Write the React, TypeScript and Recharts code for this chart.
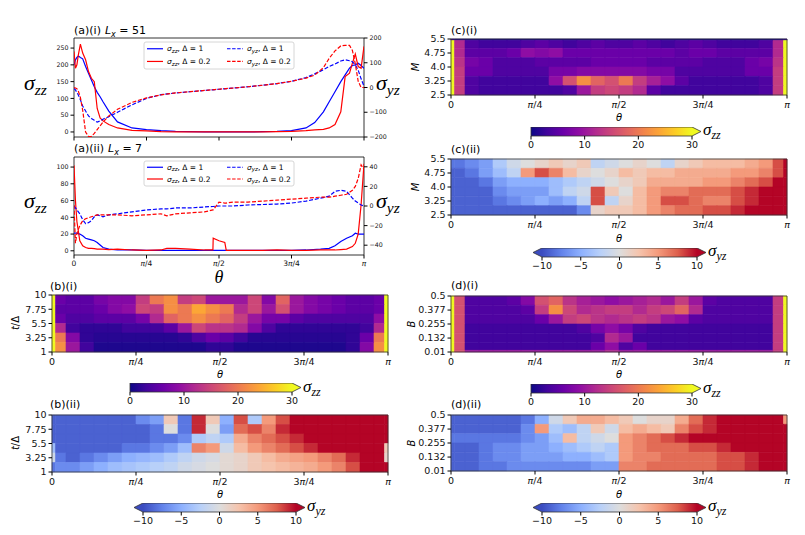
import React from "react";
import { ComposedChart, LineChart, Line, XAxis, YAxis, Scatter, ReferenceArea } from "recharts";

const FONT = "DejaVu Sans, sans-serif";
const MATH = "Liberation Serif, DejaVu Serif, serif";

// theta is kept in units of pi
const PI_TICKS = [0, 0.25, 0.5, 0.75, 1];

// ---- (a)(i) Lx = 51
const A1_THETA = [0, 0.005, 0.01, 0.015, 0.022, 0.03, 0.04, 0.05, 0.06, 0.07, 0.08, 0.09, 0.1, 0.12, 0.15, 0.2, 0.25, 0.3, 0.35, 0.4, 0.45, 0.5, 0.55, 0.6, 0.65, 0.7, 0.75, 0.8, 0.83, 0.86, 0.88, 0.9, 0.92, 0.935, 0.95, 0.96, 0.97, 0.98, 0.99, 1];
const A1_ZZ_D1 = [200, 215, 222, 226, 222, 218, 195, 175, 155, 135, 118, 105, 90, 62, 30, 12, 7, 4, 2, 1, 0, 0, 0, 0, 1, 2, 4, 12, 28, 60, 90, 120, 150, 170, 190, 198, 200, 205, 198, 190];
const A1_ZZ_D02 = [240, 190, 200, 230, 262, 235, 215, 180, 160, 150, 70, 42, 33, 22, 12, 5, 3, 1, 0, 0, 0, 0, 0, 0, 0, 1, 2, 4, 6, 8, 12, 22, 60, 165, 175, 205, 232, 195, 190, 255];
const A1_YZ_D1 = [-4, -10, -20, -30, -50, -75, -95, -115, -125, -132, -140, -135, -128, -118, -100, -70, -44, -29, -22, -17, -12, -7, -2, 3, 9, 16, 25, 40, 55, 72, 85, 95, 107, 112, 108, 104, 92, 70, 35, 5];
const A1_YZ_D02 = [0, -2, -5, -15, -40, -92, -180, -198, -198, -185, -170, -155, -140, -115, -88, -60, -42, -30, -22, -17, -12, -7, -2, 3, 9, 16, 25, 38, 50, 80, 118, 148, 168, 170, 170, 150, 95, 25, 0, 0];

// ---- (a)(ii) Lx = 7
const A2_THETA = [0, 0.005, 0.01, 0.02, 0.03, 0.04, 0.05, 0.06, 0.07, 0.08, 0.09, 0.1, 0.12, 0.15, 0.2, 0.25, 0.3, 0.32, 0.35, 0.4, 0.45, 0.479, 0.48, 0.5, 0.52, 0.525, 0.55, 0.6, 0.65, 0.7, 0.75, 0.8, 0.85, 0.88, 0.9, 0.92, 0.94, 0.96, 0.97, 0.98, 0.99, 1];
const A2_ZZ_D1 = [21, 21, 21, 20, 18, 15, 14, 13, 12, 10, 7, 4, 2, 1, 1, 0.5, 0.5, 0.5, 0.5, 0.5, 0.5, 0.5, 0.5, 0.5, 0.5, 0.5, 0.5, 0.5, 0.5, 0.5, 0.5, 1, 2, 3, 6, 11, 15, 18, 21, 20, 20, 20];
const A2_ZZ_D02 = [102, 60, 35, 12, 6, 4, 3, 3, 2.5, 2, 2, 2, 1.5, 2, 1, 0.5, 1, 3, 3, 2, 1, 1, 15, 12, 10, 0.5, 0.5, 0.5, 0.5, 1, 0.5, 0.5, 1, 1, 1, 1.5, 2, 5, 9, 20, 55, 104];
const A2_YZ_D1 = [0, -2, -4, -8, -14, -18, -17, -15, -11, -9, -10, -11, -9, -8, -6, -4, -3, -3, -2, -2, -1, -0.5, -0.5, 0, 0, 0, 0, 1, 1.5, 2, 3, 5, 8, 10, 15, 16, 15, 8, 5, 3, 1, 0];
const A2_YZ_D02 = [1, -38, -28, -20, -15, -13, -12, -11, -10, -9, -9, -9, -9, -9, -10, -9, -8, -10, -8, -7, -6, -4, -4, 4, 3, 3, 4, 4, 5, 6, 7, 8, 9, 9, 10, 11, 12, 16, 20, 28, 42, 37];

const A1_ZZ_TICKS = [0, 50, 100, 150, 200, 250];
const A1_YZ_TICKS = [-200, -100, 0, 100, 200];
const A2_ZZ_TICKS = [0, 20, 40, 60, 80, 100];
const A2_YZ_TICKS = [-40, -20, 0, 20, 40];

// ---- heat maps: column edges in units of pi, rows listed top to bottom
const THETA_EDGES = [0, 0.0104, 0.0417, 0.0833, 0.125, 0.1667, 0.2083, 0.25, 0.2917, 0.3333, 0.375, 0.4167, 0.4583, 0.5, 0.5417, 0.5833, 0.625, 0.6667, 0.7083, 0.75, 0.7917, 0.8333, 0.875, 0.9167, 0.9583, 0.9896, 1];

const B_Y_EDGES = [10, 8.5, 7, 5.5, 4, 2.5, 1];
const B_Y_TICKS = [1, 3.25, 5.5, 7.75, 10];
const B_Y_LABELS = ["1", "3.25", "5.5", "7.75", "10"];

const C1_Y_EDGES = [5.5, 5.42, 5, 4.5, 4, 3.5, 3, 2.5];
const C2_Y_EDGES = [5.5, 5, 4.5, 4, 3.5, 3, 2.5];
const C_Y_TICKS = [2.5, 3.25, 4, 4.75, 5.5];
const C_Y_LABELS = ["2.5", "3.25", "4.0", "4.75", "5.5"];

const D1_Y_EDGES = [0.5, 0.4183, 0.3367, 0.255, 0.1733, 0.0917, 0.025, 0.01];
const D2_Y_EDGES = [0.5, 0.4183, 0.3367, 0.255, 0.1733, 0.0917, 0.01];
const D_Y_TICKS = [0.01, 0.132, 0.255, 0.377, 0.5];
const D_Y_LABELS = ["0.01", "0.132", "0.255", "0.377", "0.5"];

const B_ZZ = [
  [30, 6, 5, 5, 7, 8, 8, 14, 20, 22, 14, 15, 10, 10, 10, 15, 8, 18, 10, 8, 7, 6, 5, 5, 6, 30],
  [30, 5, 5, 5, 6, 8, 9, 15, 14, 22, 20, 24, 22, 20, 12, 15, 10, 16, 10, 8, 7, 6, 5, 5, 6, 30],
  [30, 6, 4, 4, 5, 5, 5, 7, 12, 18, 20, 22, 20, 18, 14, 10, 7, 7, 5, 4, 4, 4, 4, 4, 9, 30],
  [30, 12, 3, 2, 2, 2, 3, 3, 3, 5, 10, 15, 13, 13, 12, 8, 4, 2, 2, 2, 2, 2, 2, 3, 12, 30],
  [30, 20, 8, 2, 1.5, 1.5, 1.5, 1.5, 1.5, 1.5, 2, 4, 6, 5, 3, 1.5, 1.5, 1.5, 1.5, 1.5, 1.5, 1.5, 2, 6, 20, 30],
  [30, 22, 10, 3, 1, 1, 1, 1, 1, 1, 1, 1, 2, 2, 1, 1, 1, 1, 1, 1, 1, 1, 2, 8, 22, 30],
];

const B_YZ = [
  [-9, -9, -9, -9, -9, -9, -9, -7, -6, 2, -8, 9, 2, -5, 8, -3, 5, 8, 10, 10, 10, 10, 10, 10, 10, 10],
  [-9, -9, -9, -9, -9, -9, -9, -9, -8, 0, -8, 9, 0, -6, 7, 8, 6, 9, 10, 10, 10, 10, 10, 10, 10, 10],
  [-9, -9, -9, -9, -9, -9, -9, -9, -8, -8, -7, -3, -2, -3, 4, 6, 7, 8, 9, 10, 10, 10, 10, 10, 10, 10],
  [-4, -9, -9, -9, -9, -9, -8, -8, -7, -6, -4, 6, 5, -1, 3, 5, 6, 7, 8, 9, 10, 10, 10, 10, 10, 2],
  [-1, -8, -9, -8, -7, -6, -5, -4.5, -4, -3, -2, -1, -0.5, 0.5, 1, 2, 3, 4, 4.5, 5, 6, 7, 9, 10, 10, 1],
  [-8, -7, -7, -6, -5, -4, -3.5, -3, -2.5, -2, -1, -0.5, 0, 0.5, 1, 2, 2.5, 3, 3.5, 4, 5, 6, 8, 10, 10, 10],
];

const C_ZZ = [
  [2, 1, 0.5, 0.5, 0.5, 0.5, 0.5, 0.5, 0.5, 0.5, 0.5, 0.5, 0.5, 0.5, 0.5, 0.5, 0.5, 0.5, 0.5, 0.5, 0.5, 0.5, 0.5, 0.5, 1, 2],
  [30, 12, 4, 3, 3, 3, 4, 5, 4, 3, 4, 5, 4, 4, 5, 4, 3, 4, 5, 4, 3, 3, 3, 4, 12, 30],
  [30, 12, 5, 5, 5, 6, 9, 8, 9, 6, 6, 6, 6, 6, 6, 6, 6, 5, 6, 6, 5, 5, 5, 5, 12, 30],
  [30, 13, 7, 6, 4, 4, 4, 5, 5, 5, 5, 6, 6, 6, 6, 5, 5, 5, 5, 4, 4, 4, 6, 7, 13, 30],
  [30, 14, 6, 6, 4, 4, 4, 4, 7, 7, 8, 8, 8, 8, 8, 7, 7, 4, 4, 4, 4, 4, 6, 6, 14, 30],
  [30, 14, 4, 3, 3, 3, 3, 3, 9, 16, 22, 18, 16, 20, 14, 11, 9, 5, 3, 3, 3, 3, 3, 4, 14, 30],
  [30, 14, 4, 3, 3, 3, 3, 3, 3, 4, 10, 14, 15, 14, 12, 5, 3, 3, 3, 3, 3, 3, 3, 4, 14, 30],
];

const C_YZ = [
  [-8, -8, -7, -6, -3, -1, 0, 1, 2, 1, 2, -2, -1, 0, 1, 0, -2, 1, 2, 3, 3, 3, 4, 5, 8, 10],
  [-9, -9, -8, -6, -4, -2, 5, 8, 6, 3, 1, 0, 1, 3, 2, 3, 3, 4, 4, 4, 4, 5, 5, 6, 8, 10],
  [-9, -9, -9, -8, -6, -5, -5, -5, -4, -3, -2, -1, 0, 1, 2, 4, 4, 4, 4, 5, 5, 6, 7, 8, 10, 10],
  [-9, -9, -9, -9, -7, -6, -6, -6, -4, -2, -1, 8, 2, 0, 3, 5, 6, 6, 7, 7, 7, 8, 9, 10, 10, 10],
  [-9, -9, -9, -9, -8, -7, -6, -5, -6, -5, -2, 8, -2, 1, 3, 5, 8, 8, 7, 6, 6, 8, 9, 10, 10, 10],
  [-9, -9, -9, -9, -9, -9, -9, -9, -9, -9, -7, 1, 2, 2, 3, 5, 6, 7, 7, 8, 8, 9, 10, 10, 10, 10],
];

const D_ZZ = [
  [30, 16, 4, 4, 4, 5, 8, 16, 18, 13, 11, 10, 9, 10, 11, 12, 10, 14, 10, 5, 4, 4, 4, 4, 14, 30],
  [30, 16, 4, 4, 4, 4, 5, 14, 22, 15, 12, 13, 14, 14, 12, 14, 15, 18, 12, 4, 4, 4, 4, 4, 14, 30],
  [30, 16, 4, 4, 4, 4, 4, 6, 10, 14, 15, 13, 12, 13, 14, 13, 10, 9, 5, 4, 4, 4, 4, 4, 14, 30],
  [30, 16, 3, 3, 3, 3, 3, 3, 3, 3, 4, 7, 9, 7, 4, 3, 3, 3, 3, 3, 3, 3, 3, 3, 14, 30],
  [30, 16, 3, 3, 3, 3, 3, 3, 3, 3, 3, 4, 12, 10, 3, 3, 3, 3, 3, 3, 3, 3, 3, 3, 14, 30],
  [30, 16, 3, 3, 3, 3, 3, 3, 3, 3, 3, 6, 9, 4, 6, 3, 3, 3, 3, 3, 3, 3, 3, 3, 14, 30],
  [30, 16, 10, 10, 10, 10, 10, 10, 10, 10, 10, 10, 12, 10, 10, 10, 10, 10, 10, 10, 10, 10, 10, 10, 14, 30],
];

const D_YZ = [
  [-9, -9, -9, -9, -9, -9, -8, -5, -1, 2, 4, 4, 3, 2, 0, 1, 1, 4, 7, 9, 10, 10, 10, 10, 10, 5],
  [-9, -9, -9, -9, -9, -9, -7, 5, -3, -4, -2, 2, -1, 3, 4, 3, 2, 6, 8, 9, 10, 10, 10, 10, 10, 10],
  [-8, -8, -8, -8, -8, -8, -7, -6, -4, 3, -2, -1, 0, 5, 6, 7, 8, 9, 10, 10, 10, 10, 10, 10, 10, 10],
  [-9, -9, -9, -8, -7, -7, -6, -6, -5, -4, -3, -2, -3, 5, 6, 7, 7, 7, 8, 8, 9, 10, 10, 10, 10, 10],
  [-9, -9, -9, -8, -7, -7, -6, -6, -6, -5, -5, -4, -3, 5, 6, 6, 7, 7, 7, 7, 8, 8, 9, 10, 10, 10],
  [-9, -9, -9, -8, -8, -7, -7, -7, -7, -7, -7, -6, -6, 6, 6, 7, 7, 7, 7, 7, 8, 8, 9, 10, 10, 10],
];

const ZZ_BAR_TICKS = [0, 10, 20, 30];
const YZ_BAR_TICKS = [-10, -5, 0, 5, 10];

const LEGEND_ITEMS = [
  { sub: "zz", delta: "1", color: "#0000ff", dashed: false },
  { sub: "zz", delta: "0.2", color: "#ff0000", dashed: false },
  { sub: "yz", delta: "1", color: "#0000ff", dashed: true },
  { sub: "yz", delta: "0.2", color: "#ff0000", dashed: true },
];

// colour maps
const PLASMA = [[13, 8, 135], [65, 4, 157], [106, 0, 168], [143, 13, 164], [177, 42, 144], [204, 71, 120], [225, 100, 98], [242, 132, 75], [252, 166, 54], [252, 206, 37], [240, 249, 33]];
const COOLWARM = [[59, 76, 192], [98, 130, 234], [141, 176, 254], [184, 208, 249], [221, 221, 221], [245, 196, 173], [244, 154, 123], [222, 96, 77], [180, 4, 38]];

function ramp(stops: number[][], f: number) {
  const c = Math.max(0, Math.min(1, f)) * (stops.length - 1);
  const i = Math.min(Math.floor(c), stops.length - 2);
  const u = c - i;
  const a = stops[i];
  const b = stops[i + 1];
  return `rgb(${a.map((v, k) => Math.round(v + (b[k] - v) * u)).join(",")})`;
}
const plasma = (v: number) => ramp(PLASMA, v / 30);
const coolwarm = (v: number) => ramp(COOLWARM, (v + 10) / 20);

const minus = (v: number) => String(v).replace("-", "\u2212");

function PiTick(props: any) {
  const { x, y, payload, fs } = props;
  const v = payload.value;
  let pre = "";
  let post = "";
  let pi = true;
  if (v === 0) { pre = "0"; pi = false; }
  else if (v === 0.25) post = "/4";
  else if (v === 0.5) post = "/2";
  else if (v === 0.75) { pre = "3"; post = "/4"; }
  return (
    <text x={x} y={y} dy="0.71em" textAnchor="middle" fontSize={fs} fontFamily={FONT} fill="#111">
      {pre}
      {pi && <tspan fontStyle="italic">π</tspan>}
      {post}
    </text>
  );
}

const PLOT_W_A = 290;
const PLOT_W_H = 336;

function LinePanel(props: any) {
  const { left, top, plotH, theta, zz1, zz02, yz1, yz02, zzDomain, zzTicks, yzDomain, yzTicks, showX } = props;
  const data = theta.map((t: number, i: number) => ({ t, zz1: zz1[i], zz02: zz02[i], yz1: yz1[i], yz02: yz02[i] }));
  const wl = 26;
  const wr = 30;
  const hx = showX ? 20 : 8;
  const mt = 5;
  const mr = 6;
  const tickStyle = { fontSize: 6.3, fill: "#111", fontFamily: FONT };
  return (
    <div style={{ position: "absolute", left: left - wl, top: top - mt }}>
      <LineChart width={wl + PLOT_W_A + wr + mr} height={mt + plotH + hx} data={data} margin={{ top: mt, right: mr, left: 0, bottom: 0 }}>
        <XAxis dataKey="t" type="number" domain={[0, 1]} ticks={PI_TICKS} allowDataOverflow interval={0} height={hx}
          tickSize={3.5} tickMargin={2} axisLine={false} tickLine={{ stroke: "#000" }}
          tick={showX ? (p: any) => <PiTick {...p} fs={7.5} /> : () => <g />} />
        <YAxis yAxisId="l" type="number" domain={zzDomain} ticks={zzTicks} allowDataOverflow interval={0} width={wl}
          tickSize={3.5} tickMargin={2} axisLine={false} tickLine={{ stroke: "#000" }} tick={tickStyle} tickFormatter={minus} />
        <YAxis yAxisId="r" orientation="right" type="number" domain={yzDomain} ticks={yzTicks} allowDataOverflow interval={0} width={wr}
          tickSize={3.5} tickMargin={2} axisLine={false} tickLine={{ stroke: "#000" }} tick={tickStyle} tickFormatter={minus} />
        <Line yAxisId="l" type="linear" dataKey="zz1" stroke="#0000ff" strokeWidth={1.2} dot={false} isAnimationActive={false} />
        <Line yAxisId="l" type="linear" dataKey="zz02" stroke="#ff0000" strokeWidth={1.2} dot={false} isAnimationActive={false} />
        <Line yAxisId="r" type="linear" dataKey="yz1" stroke="#0000ff" strokeWidth={1.2} strokeDasharray="4 1.8" dot={false} isAnimationActive={false} />
        <Line yAxisId="r" type="linear" dataKey="yz02" stroke="#ff0000" strokeWidth={1.2} strokeDasharray="4 1.8" dot={false} isAnimationActive={false} />
        <ReferenceArea yAxisId="l" x1={0} x2={1} y1={zzDomain[0]} y2={zzDomain[1]} fill="none" stroke="#000" strokeWidth={0.8} ifOverflow="visible" />
      </LineChart>
    </div>
  );
}

function HeatPanel(props: any) {
  const { left, top, plotH, rows, yEdges, yTicks, yLabels, color } = props;
  const cells: any[] = [];
  rows.forEach((row: number[], j: number) =>
    row.forEach((v, i) => cells.push({ x1: THETA_EDGES[i], x2: THETA_EDGES[i + 1], y1: yEdges[j + 1], y2: yEdges[j], v })),
  );
  const yMin = yEdges[yEdges.length - 1];
  const yMax = yEdges[0];
  const centers = cells.map((c) => ({ x: (c.x1 + c.x2) / 2, y: (c.y1 + c.y2) / 2 }));
  const wy = 36;
  const mt = 5;
  const mr = 12;
  const hx = 20;
  return (
    <div style={{ position: "absolute", left: left - wy, top: top - mt }}>
      <ComposedChart width={wy + PLOT_W_H + mr} height={mt + plotH + hx} margin={{ top: mt, right: mr, left: 0, bottom: 0 }}>
        <XAxis dataKey="x" type="number" domain={[0, 1]} ticks={PI_TICKS} allowDataOverflow interval={0} height={hx}
          tickSize={3.5} tickMargin={3} axisLine={false} tickLine={{ stroke: "#000" }}
          tick={(p: any) => <PiTick {...p} fs={9.5} />} />
        <YAxis dataKey="y" type="number" domain={[yMin, yMax]} ticks={yTicks} allowDataOverflow interval={0} width={wy}
          tickSize={3.5} tickMargin={2} axisLine={false} tickLine={{ stroke: "#000" }}
          tick={{ fontSize: 9.5, fill: "#111", fontFamily: FONT }}
          tickFormatter={(v: number) => yLabels[yTicks.indexOf(v)] ?? String(v)} />
        <Scatter data={centers} fill="none" legendType="none" isAnimationActive={false} />
        {cells.map((c, k) => (
          <ReferenceArea key={k} x1={c.x1} x2={c.x2} y1={c.y1} y2={c.y2} fill={color(c.v)} fillOpacity={1}
            stroke={color(c.v)} strokeWidth={0.6} ifOverflow="visible" />
        ))}
        <ReferenceArea x1={0} x2={1} y1={yMin} y2={yMax} fill="none" stroke="#333" strokeWidth={0.8} ifOverflow="visible" />
      </ComposedChart>
    </div>
  );
}

const ARROW = 9;

function ColorBar(props: any) {
  const { id, bodyLeft, bodyRight, top, barH, lo, hi, ticks, extLeft, stops } = props;
  const bodyW = bodyRight - bodyLeft;
  const ext = ((hi - lo) * ARROW) / bodyW;
  const dMin = extLeft ? lo - ext : lo;
  const dMax = hi + ext;
  const plotLeft = extLeft ? bodyLeft - ARROW : bodyLeft;
  const plotW = bodyRight + ARROW - plotLeft;
  const pad = 14;
  const hx = 18;
  const rgb = (c: number[]) => `rgb(${c.join(",")})`;
  const fracL = (lo - dMin) / (dMax - dMin);
  const fracR = (hi - dMin) / (dMax - dMin);
  return (
    <div style={{ position: "absolute", left: plotLeft - pad, top }}>
      <ComposedChart width={plotW + 2 * pad} height={barH + hx} margin={{ top: 0, right: pad, left: pad, bottom: 0 }}>
        <XAxis dataKey="x" type="number" domain={[dMin, dMax]} ticks={ticks} allowDataOverflow interval={0} height={hx}
          tickSize={3.5} tickMargin={2} axisLine={false} tickLine={{ stroke: "#000" }}
          tick={{ fontSize: 9.5, fill: "#111", fontFamily: FONT }} tickFormatter={minus} />
        <YAxis dataKey="y" type="number" domain={[0, 1]} hide />
        <Scatter data={[{ x: lo, y: 0 }, { x: hi, y: 1 }]} fill="none" legendType="none" isAnimationActive={false} />
        <ReferenceArea x1={lo} x2={hi} y1={0} y2={1} ifOverflow="visible"
          shape={(p: any) => (
            <g>
              <defs>
                <linearGradient id={id} x1="0" x2="1" y1="0" y2="0">
                  {stops.map((c: number[], i: number) => (
                    <stop key={i} offset={i / (stops.length - 1)} stopColor={rgb(c)} />
                  ))}
                </linearGradient>
              </defs>
              <rect x={p.x} y={p.y} width={p.width} height={p.height} fill={`url(#${id})`} />
            </g>
          )} />
        <ReferenceArea x1={hi} x2={dMax} y1={0} y2={1} ifOverflow="visible"
          shape={(p: any) => (
            <polygon points={`${p.x},${p.y} ${p.x + p.width},${p.y + p.height / 2} ${p.x},${p.y + p.height}`} fill={rgb(stops[stops.length - 1])} />
          )} />
        {extLeft && (
          <ReferenceArea x1={dMin} x2={lo} y1={0} y2={1} ifOverflow="visible"
            shape={(p: any) => (
              <polygon points={`${p.x + p.width},${p.y} ${p.x},${p.y + p.height / 2} ${p.x + p.width},${p.y + p.height}`} fill={rgb(stops[0])} />
            )} />
        )}
        <ReferenceArea x1={dMin} x2={dMax} y1={0} y2={1} ifOverflow="visible"
          shape={(p: any) => {
            const bl = p.x + p.width * fracL;
            const br = p.x + p.width * fracR;
            const ym = p.y + p.height / 2;
            const b = p.y + p.height;
            const d = extLeft
              ? `M${p.x},${ym} L${bl},${p.y} L${br},${p.y} L${p.x + p.width},${ym} L${br},${b} L${bl},${b} Z`
              : `M${bl},${p.y} L${br},${p.y} L${p.x + p.width},${ym} L${br},${b} L${bl},${b} Z`;
            return <path d={d} fill="none" stroke="#333" strokeWidth={0.8} />;
          }} />
      </ComposedChart>
    </div>
  );
}

function Sig({ x, y, sub, fs }: any) {
  return (
    <text x={x} y={y} fontFamily={MATH} fontStyle="italic" fontSize={fs} fill="#000">
      σ<tspan fontSize={fs * 0.7} dy={fs * 0.22}>{sub}</tspan>
    </text>
  );
}

function Title({ x, y, tag, lx }: any) {
  return (
    <text x={x} y={y} fontFamily={FONT} fontSize={11} fill="#000">
      {tag}
      {lx && (
        <>
          <tspan dx={4} fontStyle="italic">L</tspan>
          <tspan fontStyle="italic" fontSize={8} dy={2.5}>x</tspan>
          <tspan dy={-2.5}>{` = ${lx}`}</tspan>
        </>
      )}
    </text>
  );
}

function LegendBox({ x, y, w, h }: any) {
  return (
    <g>
      <rect x={x} y={y} width={w} height={h} rx={2} fill="#fff" fillOpacity={0.85} stroke="#ccc" strokeWidth={0.8} />
      {LEGEND_ITEMS.map((it, k) => {
        const cx = x + 3 + (k < 2 ? 0 : 80);
        const ly = y + h * (k % 2 === 0 ? 0.25 : 0.72);
        return (
          <g key={k}>
            <line x1={cx} x2={cx + 16} y1={ly} y2={ly} stroke={it.color} strokeWidth={1.2} strokeDasharray={it.dashed ? "3.5 1.6" : undefined} />
            <text x={cx + 20} y={ly + 2.6} fontFamily={FONT} fontSize={7.5} fill="#000">
              <tspan fontStyle="italic">σ</tspan>
              <tspan fontStyle="italic" fontSize={5.5} dy={1.6}>{it.sub}</tspan>
              <tspan dy={-1.6}>{`, Δ = ${it.delta}`}</tspan>
            </text>
          </g>
        );
      })}
    </g>
  );
}

function SmallTheta({ x, y }: any) {
  return (
    <text x={x} y={y} textAnchor="middle" fontFamily={FONT} fontStyle="italic" fontSize={10} fill="#000">θ</text>
  );
}

function YLab({ x, y, children }: any) {
  return (
    <text x={x} y={y} transform={`rotate(-90 ${x} ${y})`} textAnchor="middle" fontFamily={FONT} fontSize={10} fill="#000">
      {children}
    </text>
  );
}

function Overlay() {
  return (
    <svg width={805} height={535} style={{ position: "absolute", left: 0, top: 0, pointerEvents: "none" }}>
      <Title x={74} y={34} tag="(a)(i)" lx="51" />
      <Title x={74} y={152} tag="(a)(ii)" lx="7" />
      <Title x={50} y={290} tag="(b)(i)" />
      <Title x={50} y={408} tag="(b)(ii)" />
      <Title x={451} y={34} tag="(c)(i)" />
      <Title x={451} y={153} tag="(c)(ii)" />
      <Title x={451} y={289} tag="(d)(i)" />
      <Title x={451} y={408} tag="(d)(ii)" />

      <Sig x={24} y={90} sub="zz" fs={22} />
      <Sig x={376} y={90} sub="yz" fs={22} />
      <Sig x={24} y={208} sub="zz" fs={22} />
      <Sig x={376} y={208} sub="yz" fs={22} />
      <text x={219} y={283} textAnchor="middle" fontFamily={MATH} fontStyle="italic" fontSize={18} fill="#000">θ</text>

      <LegendBox x={144} y={42} w={150} h={27} />
      <LegendBox x={144} y={161} w={150} h={25} />

      <SmallTheta x={220} y={378} />
      <SmallTheta x={220} y={498} />
      <SmallTheta x={619} y={121} />
      <SmallTheta x={619} y={242} />
      <SmallTheta x={619} y={378} />
      <SmallTheta x={619} y={498} />

      <YLab x={19} y={323}><tspan fontStyle="italic">t</tspan>/Δ</YLab>
      <YLab x={19} y={443}><tspan fontStyle="italic">t</tspan>/Δ</YLab>
      <YLab x={419} y={67}><tspan fontStyle="italic">M</tspan></YLab>
      <YLab x={419} y={187}><tspan fontStyle="italic">M</tspan></YLab>
      <YLab x={415} y={324}><tspan fontStyle="italic">B</tspan></YLab>
      <YLab x={415} y={443}><tspan fontStyle="italic">B</tspan></YLab>

      <Sig x={303} y={392} sub="zz" fs={17} />
      <Sig x={703} y={135} sub="zz" fs={17} />
      <Sig x={703} y={393} sub="zz" fs={17} />
      <Sig x={307} y={511} sub="yz" fs={17} />
      <Sig x={708} y={256} sub="yz" fs={17} />
      <Sig x={708} y={511} sub="yz" fs={17} />
    </svg>
  );
}

export default function App() {
  return (
    <div style={{ position: "absolute", left: 0, top: 0, width: 805, height: 535, background: "#fff", overflow: "hidden" }}>
      <LinePanel left={74} top={38} plotH={99} theta={A1_THETA} zz1={A1_ZZ_D1} zz02={A1_ZZ_D02} yz1={A1_YZ_D1} yz02={A1_YZ_D02}
        zzDomain={[-15, 280]} zzTicks={A1_ZZ_TICKS} yzDomain={[-200, 200]} yzTicks={A1_YZ_TICKS} showX={false} />
      <LinePanel left={74} top={157} plotH={98} theta={A2_THETA} zz1={A2_ZZ_D1} zz02={A2_ZZ_D02} yz1={A2_YZ_D1} yz02={A2_YZ_D02}
        zzDomain={[-5, 112]} zzTicks={A2_ZZ_TICKS} yzDomain={[-50, 50]} yzTicks={A2_YZ_TICKS} showX />

      <HeatPanel left={52} top={295} plotH={57} rows={B_ZZ} yEdges={B_Y_EDGES} yTicks={B_Y_TICKS} yLabels={B_Y_LABELS} color={plasma} />
      <HeatPanel left={52} top={415} plotH={57} rows={B_YZ} yEdges={B_Y_EDGES} yTicks={B_Y_TICKS} yLabels={B_Y_LABELS} color={coolwarm} />
      <HeatPanel left={451} top={39} plotH={56} rows={C_ZZ} yEdges={C1_Y_EDGES} yTicks={C_Y_TICKS} yLabels={C_Y_LABELS} color={plasma} />
      <HeatPanel left={451} top={159} plotH={56} rows={C_YZ} yEdges={C2_Y_EDGES} yTicks={C_Y_TICKS} yLabels={C_Y_LABELS} color={coolwarm} />
      <HeatPanel left={451} top={296} plotH={56} rows={D_ZZ} yEdges={D1_Y_EDGES} yTicks={D_Y_TICKS} yLabels={D_Y_LABELS} color={plasma} />
      <HeatPanel left={451} top={415} plotH={56} rows={D_YZ} yEdges={D2_Y_EDGES} yTicks={D_Y_TICKS} yLabels={D_Y_LABELS} color={coolwarm} />

      <ColorBar id="cbB1" bodyLeft={130} bodyRight={292} top={383} barH={9} lo={0} hi={30} ticks={ZZ_BAR_TICKS} extLeft={false} stops={PLASMA} />
      <ColorBar id="cbC1" bodyLeft={531} bodyRight={692} top={127} barH={9} lo={0} hi={30} ticks={ZZ_BAR_TICKS} extLeft={false} stops={PLASMA} />
      <ColorBar id="cbD1" bodyLeft={531} bodyRight={692} top={384} barH={9} lo={0} hi={30} ticks={ZZ_BAR_TICKS} extLeft={false} stops={PLASMA} />
      <ColorBar id="cbB2" bodyLeft={143} bodyRight={296} top={503} barH={9} lo={-10} hi={10} ticks={YZ_BAR_TICKS} extLeft stops={COOLWARM} />
      <ColorBar id="cbC2" bodyLeft={542} bodyRight={697} top={248} barH={9} lo={-10} hi={10} ticks={YZ_BAR_TICKS} extLeft stops={COOLWARM} />
      <ColorBar id="cbD2" bodyLeft={542} bodyRight={697} top={503} barH={9} lo={-10} hi={10} ticks={YZ_BAR_TICKS} extLeft stops={COOLWARM} />

      <Overlay />
    </div>
  );
}
